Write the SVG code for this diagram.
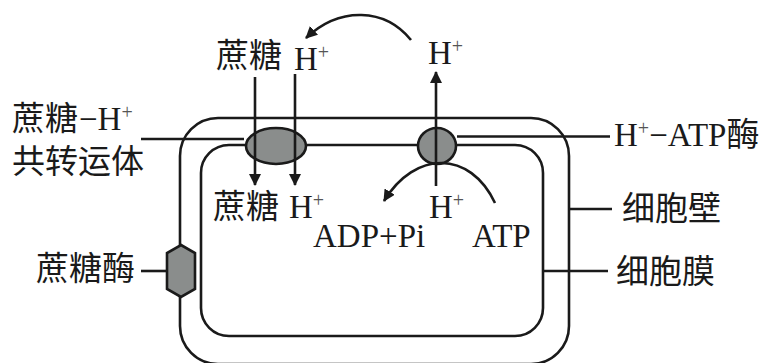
<svg xmlns="http://www.w3.org/2000/svg" width="760" height="363" viewBox="0 0 760 363">
<style>
.l{fill:none;stroke:#1a1a1a;stroke-width:2.6}
.s{fill:#1a1a1a;font-family:"Liberation Serif","Noto Sans CJK SC",serif;font-size:33px}
.z{fill:#1a1a1a;font-family:"Noto Sans CJK SC",sans-serif;font-size:33px}
.p{font-size:20px;fill:#555}
.e{fill:#8a8d8c;stroke:#1a1a1a;stroke-width:2.6}
</style>
<defs><marker id="a" viewBox="0 0 12 12" refX="11" refY="6" markerWidth="12" markerHeight="12" markerUnits="userSpaceOnUse" orient="auto"><path d="M0 0L12 6L0 12Z" fill="#1a1a1a"/></marker></defs>
<rect width="760" height="363" fill="#fff"/>
<g id="wall"><rect class="l" x="180" y="118" width="389" height="246" rx="38"/></g>
<g id="membrane"><rect class="l" x="201" y="145" width="342" height="191" rx="28"/></g>
<g id="sucrase"><path class="e" d="M181 245L195 253V289L181 297L167 289V253Z"/></g>
<g id="cotransporter"><ellipse class="e" cx="276" cy="146" rx="30" ry="18"/></g>
<g id="atpase"><ellipse class="e" cx="437" cy="146" rx="19" ry="18"/></g>
<g id="connectors">
<path class="l" d="M141 139H244"/>
<path class="l" d="M141 271H167"/>
<path class="l" d="M457 136.500H610"/>
<path class="l" d="M569 209H612"/>
<path class="l" d="M543 271H608"/>
<path class="l" marker-end="url(#a)" d="M255 77V185"/>
<path class="l" marker-end="url(#a)" d="M295 74V185"/>
<path class="l" marker-end="url(#a)" d="M436 186V72"/>
<path class="l" marker-end="url(#a)" d="M411 40C385 8 340 6 306 38"/>
<path class="l" marker-end="url(#a)" d="M495 203C470 150 415 150 384 201"/>
</g>
<g id="labels">
<text class="z" x="216" y="67">蔗糖</text>
<text class="s" x="294" y="70">H<tspan class="p" dy="-11">+</tspan></text>
<text class="s" x="428" y="64">H<tspan class="p" dy="-11">+</tspan></text>
<text class="z" x="213" y="218">蔗糖</text>
<text class="s" x="289" y="218">H<tspan class="p" dy="-11">+</tspan></text>
<text class="s" x="429" y="218">H<tspan class="p" dy="-11">+</tspan></text>
<text class="s" x="313" y="247">ADP+Pi</text>
<text class="s" x="472" y="247">ATP</text>
<text class="z" x="12" y="130">蔗糖</text>
<text class="s" x="79" y="130">−H<tspan class="p" dy="-11">+</tspan></text>
<text class="z" x="12" y="173">共转运体</text>
<text class="z" x="36" y="280">蔗糖酶</text>
<text class="s" x="614" y="146">H<tspan class="p" dy="-11">+</tspan><tspan dy="11">−ATP酶</tspan></text>
<text class="z" x="622" y="220">细胞壁</text>
<text class="z" x="616" y="283">细胞膜</text>
</g>
</svg>
